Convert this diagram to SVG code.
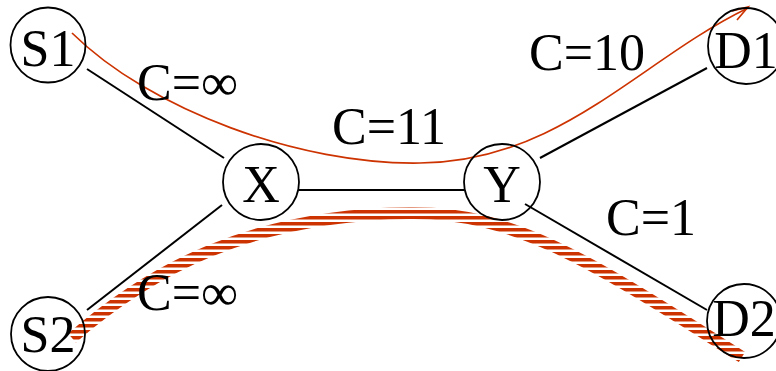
<svg xmlns="http://www.w3.org/2000/svg" width="776" height="371" viewBox="0 0 776 371">
<style>
.n{fill:none;stroke:#000;stroke-width:1.8}
.e{stroke:#000;stroke-width:2;fill:none}
.t{font-family:"Liberation Serif","Times New Roman",serif;font-size:52px;fill:#000}
.m{text-anchor:middle}
</style>
<defs>
<pattern id="hatch" patternUnits="userSpaceOnUse" width="12" height="6">
<rect x="0" y="0" width="12" height="3.5" fill="#cc3300"/>
</pattern>
</defs>
<rect width="776" height="371" fill="#fff"/>
<g id="connectors">
<line class="e" x1="87" y1="69" x2="224" y2="158"/>
<line class="e" x1="87" y1="310" x2="222" y2="205"/>
<line class="e" x1="299" y1="190" x2="464" y2="190"/>
<line class="e" x1="540" y1="158" x2="707" y2="68"/>
<line class="e" x1="525" y1="204" x2="707" y2="310"/>
<path d="M72,338 C150,270 250,215 410,213 C520,212 600,268 742,357" fill="none" stroke="url(#hatch)" stroke-width="12"/>
<path d="M72,33 C150,110 300,165 420,163 C560,162 640,60 748,8" fill="none" stroke="#cc3300" stroke-width="1.7"/>
<path d="M732,11 L748,7 L737,20" fill="none" stroke="#cc3300" stroke-width="1.7"/>
</g>
<g id="S1"><circle class="n" cx="48" cy="45" r="37.5"/><text class="t m" x="48" y="66">S1</text></g>
<g id="S2"><circle class="n" cx="48" cy="334" r="37"/><text class="t m" x="48" y="352">S2</text></g>
<g id="X"><circle class="n" cx="261" cy="182" r="38"/><text class="t m" x="261" y="202">X</text></g>
<g id="Y"><circle class="n" cx="502" cy="182" r="38"/><text class="t m" x="502" y="202">Y</text></g>
<g id="D1"><circle class="n" cx="746" cy="46" r="38"/><text class="t m" x="746" y="68">D1</text></g>
<g id="D2"><circle class="n" cx="744" cy="321" r="37"/><text class="t m" x="744" y="336">D2</text></g>
<g id="labels">
<text class="t" x="137" y="100">C=∞</text>
<text class="t" x="332" y="144">C=11</text>
<text class="t" x="529" y="70">C=10</text>
<text class="t" x="137" y="310">C=∞</text>
<text class="t" x="606" y="235">C=1</text>
</g>
</svg>
